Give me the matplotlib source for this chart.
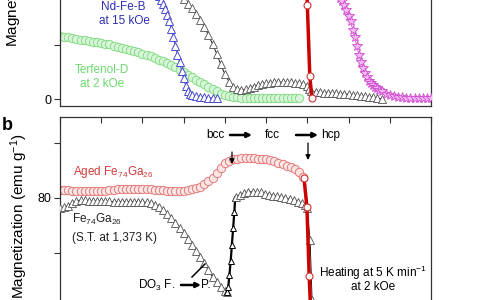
import matplotlib
matplotlib.use("Agg")
import matplotlib.pyplot as plt
from matplotlib.ticker import FixedLocator, NullFormatter

plt.rcParams['font.family'] = ['Liberation Sans', 'DejaVu Sans']
plt.rcParams['mathtext.fontset'] = 'custom'
plt.rcParams['mathtext.rm'] = 'Liberation Sans'
plt.rcParams['mathtext.it'] = 'Liberation Sans:italic'
plt.rcParams['mathtext.bf'] = 'Liberation Sans:bold'

# ---------------- data: top panel ----------------
terf_T = [300, 310, 320, 330, 340, 350, 360, 370, 380, 390, 400, 410, 420, 430, 440,
          450, 460, 470, 480, 490, 500, 510, 520, 530, 540, 550, 560, 570, 580, 590,
          600, 610, 620, 630, 640, 650, 660, 670, 680, 690, 700, 710, 720, 730, 740,
          750, 760, 770, 780, 790, 800, 810, 820, 830, 840, 850, 860, 870, 880]
terf_M = [58, 57.5, 57, 56.5, 56, 55, 54.5, 54, 53, 52.5, 52, 51, 50.5, 49.5, 48.5,
          47.5, 46.5, 45.5, 44.5, 43.5, 42, 41, 39.5, 38, 36.5, 35, 33.5, 31.5, 29.5, 27,
          25, 22.5, 20.5, 18, 16, 13.5, 11, 9, 7, 5, 3.5, 2.5, 2, 1.5, 1.2,
          1, 0.8, 0.7, 0.6, 0.5, 0.5, 0.5, 0.5, 0.5, 0.5, 0.5, 0.5, 0.5, 0.5]

ndfeb_T = [300, 320, 340, 360, 380, 400, 420, 440, 460, 480, 500, 520, 530, 540, 545,
           550, 555, 560, 565, 570, 575, 580, 585, 590, 595, 600, 605, 610, 615, 620,
           630, 640, 650, 660, 670, 680]
ndfeb_M = [165, 163, 161, 158, 155, 151, 146, 140, 133, 125, 116, 106, 100.5, 95, 92,
           88, 83, 78, 72, 65, 57, 49, 41, 34, 26, 19, 12, 7.5, 4.8, 3.5,
           2.5, 1.9, 1.5, 1.2, 1.0, 0.9]

fega_top_T = [300, 350, 400, 450, 500, 550, 575, 590, 600, 610, 620, 630, 640, 650, 660,
              670, 680, 690, 700, 710, 720, 730, 740, 750, 760, 770, 780, 790, 800, 810,
              820, 830, 840, 850, 860, 870, 880, 890, 900, 905, 910, 920, 930, 940, 950,
              960, 970, 980, 990, 1000, 1010, 1020, 1030, 1040, 1050, 1060, 1070, 1080]
fega_top_M = [140, 138, 135, 130, 123, 112, 104, 97, 93, 88, 84, 79, 73, 67, 59,
              51, 42, 32, 23, 16, 11, 9, 8.3, 9, 10, 11.5, 12.8, 13.8, 14.5, 15,
              15.5, 15.7, 15.7, 15.5, 15.3, 15, 14.5, 13.5, 12, 9, 7, 6.5, 6.2, 6, 5.8,
              5.5, 5.2, 5, 4.7, 4.4, 4, 3.6, 3.2, 2.7, 2.2, 1.5, 0.8, 0.2]

iron_T = [300, 400, 500, 600, 700, 800, 850, 900, 930, 950, 960, 970, 980, 985, 990,
          995, 1000, 1005, 1010, 1015, 1020, 1025, 1030, 1035, 1040, 1045, 1050, 1055,
          1060, 1065, 1070, 1075, 1080, 1090, 1100, 1110, 1120, 1130, 1140, 1150, 1160,
          1170, 1180, 1190, 1200]
iron_M = [170, 165, 158, 150, 142, 133, 127, 120, 112, 105, 101, 97, 93.5, 91, 87,
          82, 77, 72, 64, 57, 49, 41, 34, 29, 24, 20.5, 17, 14.5,
          12.5, 11, 9.8, 8.3, 7, 5, 3.8, 2.8, 2, 1.4, 1, 0.9, 0.9,
          0.9, 0.9, 0.9, 0.9]

aged_top_T = [895, 900, 906, 911]
aged_top_M = [130, 87, 21.3, 0.9]

# ---------------- data: bottom panel ----------------
aged_T = [300, 310, 320, 330, 340, 350, 360, 370, 380, 390, 400, 410, 420, 430, 440,
          450, 460, 470, 480, 490, 500, 510, 520, 530, 540, 550, 560, 570, 580, 590,
          600, 610, 620, 630, 640, 650, 660, 670, 680, 690, 700, 710, 720, 730, 740,
          750, 760, 770, 780, 790, 800, 810, 820, 830, 840, 850, 860, 870, 880, 890]
aged_M = [82.9, 82.8, 82.8, 82.7, 82.7, 82.7, 82.6, 82.6, 82.5, 82.5, 82.5, 82.7, 82.9, 83.0, 83.1,
          83.2, 83.3, 83.4, 83.4, 83.4, 83.3, 83.2, 83.1, 83.0, 82.9, 82.8, 82.7, 82.6, 82.5, 82.5,
          82.7, 83.0, 83.4, 83.7, 84.1, 85.0, 86.0, 87.2, 89.0, 91.0, 92.6, 93.5, 94.0, 94.3, 94.4,
          94.5, 94.5, 94.4, 94.3, 94.2, 94.0, 93.8, 93.4, 92.9, 92.3, 91.7, 91.1, 90.5, 89.5, 87.5]

aged_drop_T = [892, 899, 904.5, 908, 911]
aged_drop_M = [87.1, 76.7, 51.6, 39.3, 25]

st_T = [300, 310, 320, 330, 340, 350, 360, 370, 380, 390, 400, 410, 420, 430, 440,
        450, 460, 470, 480, 490, 500, 510, 520, 530, 540, 550, 560, 570, 580, 590,
        600, 610, 620, 630, 640, 650, 660, 670, 680, 690, 700, 705]
st_M = [76.4, 76.6, 77.2, 78.0, 78.8, 79.3, 79.1, 78.9, 78.9, 78.9, 78.9, 78.8, 78.8, 78.7, 78.7,
        78.7, 78.7, 78.7, 78.7, 78.7, 78.6, 78.4, 78.1, 77.5, 76.7, 75.6, 74.3, 72.8, 71.0, 69.2,
        67.2, 65.2, 63.0, 60.9, 58.7, 56.3, 53.8, 51.3, 49.3, 47.5, 46.2, 45.8]

rise_T = [705, 708, 711, 714, 717, 720, 723, 725]
rise_M = [45.8, 47.5, 52, 57, 63, 69.1, 75, 80]

fcc_T = [727, 737, 747, 757, 767, 777, 787, 797, 807, 817, 827, 837, 847, 857, 867,
         877, 887, 895, 899, 906.8, 911.6, 914]
fcc_M = [80.5, 81.1, 81.8, 82.2, 82.3, 82.2, 82.0, 81.6, 81.2, 80.9, 80.6, 80.4, 80.0, 79.6, 79.1,
         78.6, 78.0, 77.4, 76.4, 64.7, 43, 30]

# ---------------- figure ----------------
W, H = 480, 300
fig = plt.figure(figsize=(4.8, 3.0), dpi=100)


def P(x, y):
    return (x / W, 1 - y / H)


ax1 = fig.add_axes([60 / W, 1 - 106 / H, 371 / W, 166 / H])
ax2 = fig.add_axes([60 / W, 1 - 400 / H, 371 / W, 283 / H])

for ax in (ax1, ax2):
    for s in ax.spines.values():
        s.set_linewidth(0.9)
        s.set_color('#333333')
    ax.set_xlim(300, 1200)

# top panel
ax1.set_ylim(-6.48, 147.2)
ax1.plot(terf_T, terf_M, '-o', color='#9ee29e', lw=0.8, ms=6, mec='#86dc86',
         mfc='#d9f5d9', mew=0.7, zorder=2)
ax1.plot(ndfeb_T, ndfeb_M, '-^', color='#2a2aa8', lw=0.6, ms=5.5, mec='#4a4ad0', mfc='white',
         mew=0.7, zorder=3)
ax1.plot(fega_top_T, fega_top_M, '-^', color='black', lw=0.6, ms=6, mec='#505050',
         mfc='white', mew=0.6, zorder=3)
ax1.plot(iron_T, iron_M, '-*', color='#cc33cc', lw=0.5, ms=7, mec='#d04ad0', mfc='#f3b8f3',
         mew=0.6, zorder=3)
ax1.plot(aged_top_T, aged_top_M, '-o', color='#cc0000', lw=2.5, ms=5, mec='#cc3333',
         mfc='white', mew=0.8, markevery=[1, 2, 3], zorder=4)

ax1.yaxis.set_major_locator(FixedLocator([0, 100]))
ax1.yaxis.set_minor_locator(FixedLocator([50]))
ax1.yaxis.set_minor_formatter(NullFormatter())
ax1.tick_params(axis='y', which='both', direction='out', length=4, width=0.8,
                labelsize=9, pad=2, color='#333333')
ax1.tick_params(axis='x', which='both', bottom=False, top=False, labelbottom=False)

# bottom panel
ax2.set_ylim(6.55, 109.45)
ax2.plot(aged_T, aged_M, '-o', color='#eea0a0', lw=0.8, ms=6, mec='#e27a7a',
         mfc='#fbe6e6', mew=0.7, zorder=2)
ax2.plot(st_T, st_M, '-^', color='black', lw=0.6, ms=6, mec='#505050', mfc='white',
         mew=0.6, zorder=3)
ax2.plot(rise_T, rise_M, '-^', color='black', lw=1.6, ms=5, mec='black', mfc='white',
         mew=0.7, zorder=3)
ax2.plot(fcc_T, fcc_M, '-^', color='black', lw=0.6, ms=6, mec='#505050', mfc='white',
         mew=0.6, zorder=3)
ax2.plot(aged_drop_T, aged_drop_M, '-o', color='#cc0000', lw=2.5, ms=5, mec='#cc3333',
         mfc='white', mew=0.8, markevery=[0, 1, 2], zorder=4)

ax2.yaxis.set_major_locator(FixedLocator([40, 80]))
ax2.yaxis.set_minor_locator(FixedLocator([60, 100]))
ax2.yaxis.set_minor_formatter(NullFormatter())
ax2.tick_params(axis='y', which='both', direction='out', length=4, width=0.8,
                labelsize=9, pad=2, color='#333333')
ax2.xaxis.set_major_locator(FixedLocator(list(range(300, 1201, 100))))
ax2.tick_params(axis='x', which='both', bottom=False, top=True, labelbottom=False,
                labeltop=False, direction='in', length=4, width=0.8, color='#333333')

# labels
ylab = 'Magnetization (emu g$^{-1}$)'
fig.text(*P(13, 47), ylab, rotation=90, ha='center', va='bottom', fontsize=11)
fig.text(*P(19, 299), ylab, rotation=90, ha='center', va='bottom', fontsize=11)
fig.text(*P(7, 126), 'b', fontsize=13, fontweight='bold', ha='center', va='center')

# top annotations
fig.text(*P(123, 7), 'Nd-Fe-B', color='#2f2fb0', fontsize=8.5, ha='center', va='center')
fig.text(*P(124, 21), 'at 15 kOe', color='#2f2fb0', fontsize=8.5, ha='center', va='center')
fig.text(*P(102, 70), 'Terfenol-D', color='#6cd86c', fontsize=8.5, ha='center', va='center')
fig.text(*P(102.5, 84), 'at 2 kOe', color='#6cd86c', fontsize=8.5, ha='center', va='center')

# bottom annotations
fig.text(*P(215, 135), 'bcc', fontsize=8.5, ha='center', va='center')
fig.text(*P(272, 135), 'fcc', fontsize=8.5, ha='center', va='center')
fig.text(*P(331, 135), 'hcp', fontsize=8.5, ha='center', va='center')

arrow_h = dict(arrowstyle='-|>', lw=1.8, color='black', mutation_scale=7,
               shrinkA=0, shrinkB=0)
arrow_v = dict(arrowstyle='-|>', lw=0.9, color='black', mutation_scale=7,
               shrinkA=0, shrinkB=0)
for (x0, y0, x1, y1, props) in [(230, 135, 252, 135, arrow_h),
                                (296, 135, 318, 135, arrow_h),
                                (232, 152, 232, 164, arrow_v),
                                (308, 143, 308, 160, arrow_v),
                                (181, 285, 201, 285, arrow_h)]:
    fig.add_artist(matplotlib.patches.FancyArrowPatch(P(x0, y0), P(x1, y1),
                                                      transform=fig.transFigure, **props))

fig.add_artist(matplotlib.lines.Line2D([192 / W, 205 / W], [1 - 277 / H, 1 - 264 / H],
                                       transform=fig.transFigure, color='black', lw=1.1))

fig.text(*P(73, 172), 'Aged Fe$_{74}$Ga$_{26}$', color='#d03b3b', fontsize=8.5,
         ha='left', va='center')
fig.text(*P(72, 219), 'Fe$_{74}$Ga$_{26}$', color='#222222', fontsize=8.5,
         ha='left', va='center')
fig.text(*P(72, 238), '(S.T. at 1,373 K)', color='#222222', fontsize=8.5,
         ha='left', va='center')
fig.text(*P(138, 285), 'DO$_3$ F.', fontsize=8.5, ha='left', va='center')
fig.text(*P(201, 285), 'P.', fontsize=8.5, ha='left', va='center')
fig.text(*P(373, 273), 'Heating at 5 K min$^{-1}$', fontsize=8.5, ha='center', va='center')
fig.text(*P(373, 287), 'at 2 kOe', fontsize=8.5, ha='center', va='center')

fig.savefig('out.png', dpi=100)
